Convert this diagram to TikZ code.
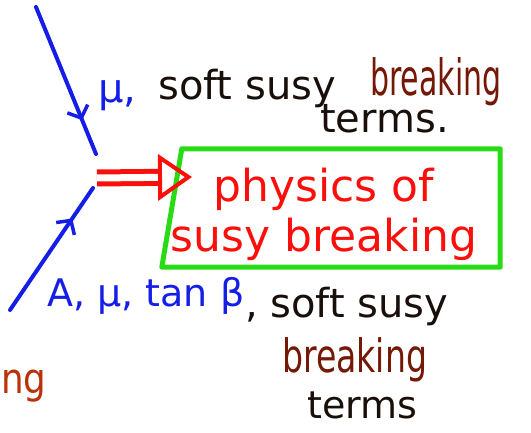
\documentclass[tikz,border=0pt]{standalone}
\usepackage{fontspec}
\setmainfont{DejaVu Sans}
\usepackage{graphicx}
\usepackage{tikz}
\usetikzlibrary{arrows.meta, decorations.markings, positioning}
\definecolor{penblue}{RGB}{20,30,230}
\definecolor{penred}{RGB}{250,15,10}
\definecolor{pengreen}{RGB}{40,220,20}
\definecolor{penbrown}{RGB}{115,25,5}
\definecolor{penrust}{RGB}{185,50,10}
\definecolor{penblack}{RGB}{25,15,10}
\newcommand{\penfont}[1]{\fontsize{#1}{#1}\selectfont}
\newcommand{\squeeze}[2]{\scalebox{#1}[1]{#2}}
\tikzset{
  >=latex,  % default arrows
  % hand-drawn strokes
  pen/.style={line width=4pt,line cap=round,line join=round},
  leg/.style={pen,penblue,postaction={decorate},
    decoration={markings,mark=at position #1 with {\arrow{Straight Barb[length=10pt,width=22pt,line width=3.5pt]}}}},
  leg/.default=0.5,
  shaft/.style={penred,line width=5pt,double=white,double distance=7pt,
    -{Triangle[open,length=34pt,width=46pt,line width=4pt]}},
  % the box and its frame
  susybox/.style={rectangle,minimum width=338pt,minimum height=118pt,inner sep=0pt},
  frame/.style={pengreen,line width=5pt,line join=round},
  % handwritten words
  note/.style={inner sep=0pt,anchor=base west}
}
\begin{document}
\begin{tikzpicture}[x=1pt,y=-1pt]
  \useasboundingbox (0,0) rectangle (531,433);
  % box
  \node[susybox] (box) at (331,208) {};
  \draw[frame] ([xshift=20pt]box.north west) -- (box.north east)
    -- (box.south east) -- (box.south west) -- cycle;
  \node[text=penred,font=\fontsize{44}{50}\selectfont,align=center,inner sep=0pt]
    (phys) at (324,214) {physics of\\susy breaking};
  % incoming legs
  \coordinate (mutop) at (36,7);
  \coordinate (mufork) at (96,154);
  \coordinate (abot) at (10,310);
  \coordinate (afork) at (93,188);
  \draw[leg=0.77] (mutop) -- (mufork);
  \draw[leg=0.75] (abot) -- (afork);
  % arrow into the box
  \coordinate (fork) at (97,178);
  \coordinate (tip) at (192,177);
  \draw[shaft] (fork) -- (tip);
  % upper labels
  \node[note,text=penblue,font=\penfont{40}] (mu) at (98,103) {μ,};
  \node[note,text=penblack,font=\penfont{40}] (softtop) at (158,100) {soft susy};
  \node[note,text=penbrown,font=\penfont{50}] (breaktop) at (370,96) {\squeeze{0.6}{breaking}};
  \node[note,text=penblack,font=\penfont{40}] (termstop) at (320,133) {terms.};
  % lower labels
  \node[note,text=penblue,font=\penfont{38}] (params) at (47,306) {A, μ, tan β};
  \node[note,text=penblack,font=\penfont{40}] (softlow) at (245,318) {, soft susy};
  \node[note,text=penbrown,font=\penfont{46}] (breaklow) at (282,372) {\squeeze{0.72}{breaking}};
  \node[note,text=penblack,font=\penfont{38}] (termslow) at (307,418) {terms};
  \node[note,text=penrust,font=\penfont{42}] (ng) at (1,393) {\squeeze{0.85}{ng}};
\end{tikzpicture}
\end{document}
